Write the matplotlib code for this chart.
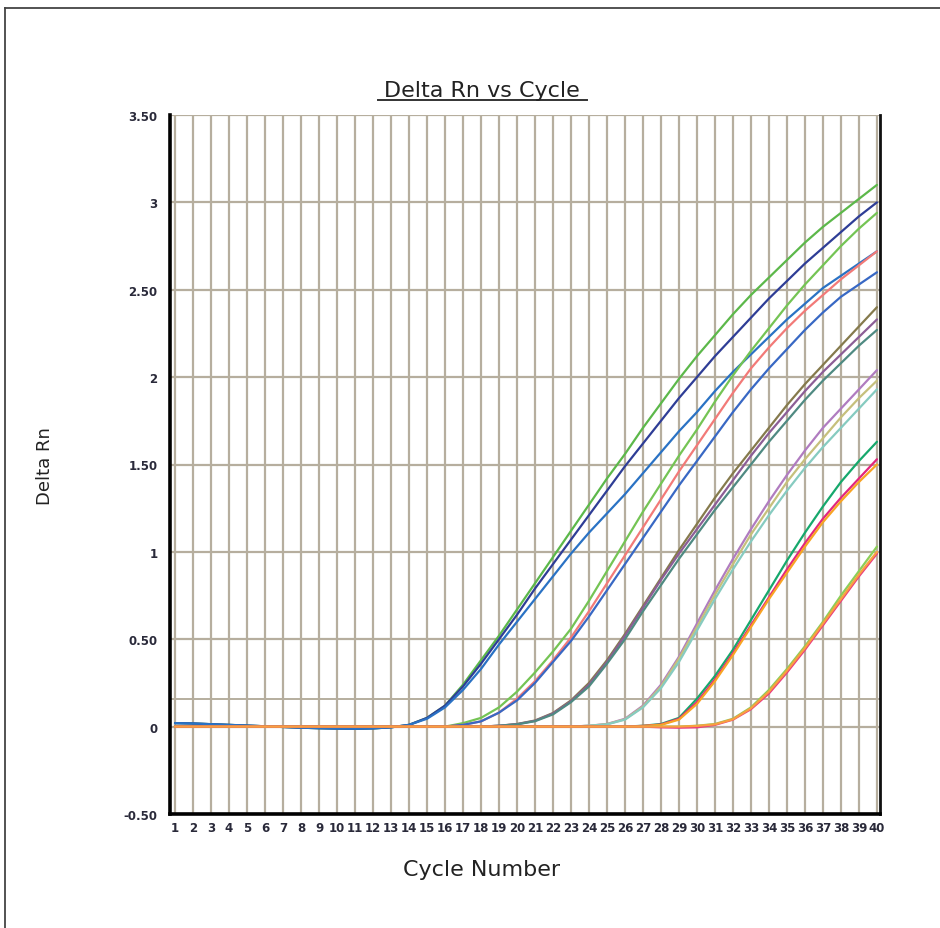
import matplotlib
matplotlib.use("Agg")
import matplotlib.pyplot as plt
from matplotlib.lines import Line2D

plt.rcParams['font.family'] = ['DejaVu Sans']

# ---------------- data ----------------
cycles = [1, 2, 3, 4, 5, 6, 7, 8, 9, 10, 11, 12, 13, 14, 15, 16, 17, 18, 19, 20,
          21, 22, 23, 24, 25, 26, 27, 28, 29, 30, 31, 32, 33, 34, 35, 36, 37, 38, 39, 40]

y_ticks = [-0.5, 0, 0.5, 1, 1.5, 2, 2.5, 3, 3.5]
y_tick_labels = ["-0.50", "0", "0.50", "1", "1.50", "2", "2.50", "3", "3.50"]
threshold = 0.16

# group 1 (earliest rise)
green_a = [0.020, 0.018, 0.014, 0.010, 0.006, 0.002, -0.002, -0.006, -0.009, -0.011,
           -0.012, -0.010, -0.004, 0.01, 0.05, 0.12, 0.24, 0.38, 0.52, 0.67,
           0.82, 0.97, 1.12, 1.27, 1.42, 1.56, 1.71, 1.85, 1.99, 2.12,
           2.24, 2.36, 2.47, 2.57, 2.67, 2.77, 2.86, 2.94, 3.02, 3.10]
navy = [0.020, 0.018, 0.014, 0.010, 0.006, 0.002, -0.002, -0.006, -0.009, -0.011,
        -0.012, -0.010, -0.004, 0.01, 0.05, 0.12, 0.23, 0.36, 0.50, 0.64,
        0.79, 0.93, 1.07, 1.21, 1.35, 1.49, 1.62, 1.75, 1.88, 2.00,
        2.12, 2.23, 2.34, 2.45, 2.55, 2.65, 2.74, 2.83, 2.92, 3.00]
blue_a = [0.020, 0.018, 0.014, 0.010, 0.006, 0.002, -0.002, -0.006, -0.009, -0.011,
          -0.012, -0.010, -0.004, 0.01, 0.045, 0.11, 0.21, 0.33, 0.47, 0.60,
          0.73, 0.86, 0.99, 1.11, 1.22, 1.33, 1.45, 1.57, 1.69, 1.80,
          1.92, 2.03, 2.13, 2.23, 2.33, 2.42, 2.51, 2.58, 2.65, 2.72]

# group 2
green_b = [0, 0, 0, 0, 0, 0, 0, 0, 0, 0, 0, 0, 0, 0, 0, 0, 0.02, 0.05, 0.11, 0.20,
           0.31, 0.43, 0.56, 0.72, 0.89, 1.06, 1.23, 1.39, 1.55, 1.70,
           1.86, 2.01, 2.15, 2.28, 2.41, 2.53, 2.64, 2.75, 2.85, 2.94]
pink = [0, 0, 0, 0, 0, 0, 0, 0, 0, 0, 0, 0, 0, 0, 0, 0, 0.01, 0.03, 0.08, 0.16,
        0.26, 0.38, 0.51, 0.66, 0.82, 0.98, 1.14, 1.30, 1.46, 1.61,
        1.76, 1.91, 2.05, 2.17, 2.28, 2.38, 2.47, 2.56, 2.64, 2.72]
blue_b = [0, 0, 0, 0, 0, 0, 0, 0, 0, 0, 0, 0, 0, 0, 0, 0, 0.01, 0.03, 0.08, 0.15,
          0.25, 0.37, 0.49, 0.63, 0.78, 0.93, 1.08, 1.23, 1.38, 1.52,
          1.66, 1.80, 1.93, 2.05, 2.16, 2.27, 2.37, 2.46, 2.53, 2.60]

# group 3
olive = [0, 0, 0, 0, 0, 0, 0, 0, 0, 0, 0, 0, 0, 0, 0, 0, 0, 0, 0.005, 0.015,
         0.035, 0.078, 0.15, 0.25, 0.38, 0.53, 0.69, 0.85, 1.01, 1.16,
         1.31, 1.45, 1.58, 1.71, 1.84, 1.96, 2.07, 2.18, 2.29, 2.40]
purple = [0, 0, 0, 0, 0, 0, 0, 0, 0, 0, 0, 0, 0, 0, 0, 0, 0, 0, 0.005, 0.014,
          0.033, 0.075, 0.145, 0.24, 0.37, 0.52, 0.68, 0.84, 0.99, 1.13,
          1.27, 1.41, 1.55, 1.68, 1.80, 1.92, 2.03, 2.13, 2.23, 2.33]
teal_gray = [0, 0, 0, 0, 0, 0, 0, 0, 0, 0, 0, 0, 0, 0, 0, 0, 0, 0, 0.005, 0.013,
             0.031, 0.07, 0.14, 0.23, 0.36, 0.50, 0.66, 0.81, 0.96, 1.10,
             1.24, 1.37, 1.50, 1.63, 1.75, 1.87, 1.98, 2.08, 2.18, 2.27]

# group 4
lilac = [0, 0, 0, 0, 0, 0, 0, 0, 0, 0, 0, 0, 0, 0, 0, 0, 0, 0, 0, 0,
         0, 0, 0, 0.005, 0.015, 0.045, 0.12, 0.24, 0.40, 0.59,
         0.78, 0.96, 1.13, 1.29, 1.44, 1.58, 1.71, 1.82, 1.93, 2.04]
khaki = [0, 0, 0, 0, 0, 0, 0, 0, 0, 0, 0, 0, 0, 0, 0, 0, 0, 0, 0, 0,
         0, 0, 0, 0.005, 0.014, 0.042, 0.115, 0.23, 0.39, 0.57,
         0.755, 0.93, 1.10, 1.25, 1.40, 1.53, 1.65, 1.77, 1.88, 1.98]
light_teal = [0, 0, 0, 0, 0, 0, 0, 0, 0, 0, 0, 0, 0, 0, 0, 0, 0, 0, 0, 0,
              0, 0, 0, 0.005, 0.013, 0.04, 0.11, 0.22, 0.37, 0.55,
              0.73, 0.90, 1.06, 1.21, 1.35, 1.48, 1.60, 1.71, 1.82, 1.93]

# group 5
jade = [0, 0, 0, 0, 0, 0, 0, 0, 0, 0, 0, 0, 0, 0, 0, 0, 0, 0, 0, 0,
        0, 0, 0, 0, 0, 0, 0.005, 0.015, 0.05, 0.16,
        0.29, 0.44, 0.61, 0.78, 0.95, 1.11, 1.26, 1.40, 1.52, 1.63]
magenta = [0, 0, 0, 0, 0, 0, 0, 0, 0, 0, 0, 0, 0, 0, 0, 0, 0, 0, 0, 0,
           0, 0, 0, 0, 0, 0, 0.004, 0.012, 0.045, 0.14,
           0.27, 0.42, 0.58, 0.74, 0.90, 1.05, 1.19, 1.31, 1.42, 1.53]
orange = [0, 0, 0, 0, 0, 0, 0, 0, 0, 0, 0, 0, 0, 0, 0, 0, 0, 0, 0, 0,
          0, 0, 0, 0, 0, 0, 0.004, 0.01, 0.04, 0.13,
          0.26, 0.41, 0.57, 0.73, 0.88, 1.03, 1.17, 1.29, 1.40, 1.50]

# group 6 (latest rise)
lime = [0, 0, 0, 0, 0, 0, 0, 0, 0, 0, 0, 0, 0, 0, 0, 0, 0, 0, 0, 0,
        0, 0, 0, 0, 0, 0, 0, 0, 0, 0.005,
        0.015, 0.045, 0.11, 0.21, 0.33, 0.46, 0.60, 0.75, 0.89, 1.03]
magenta_2 = [0, 0, 0, 0, 0, 0, 0, 0, 0, 0, 0, 0, 0, 0, 0, 0, 0, 0, 0, 0,
             0, 0, 0, 0, 0, 0, 0, -0.004, -0.006, -0.004,
             0.01, 0.04, 0.10, 0.19, 0.31, 0.44, 0.58, 0.72, 0.86, 0.99]
orange_2 = [0, 0, 0, 0, 0, 0, 0, 0, 0, 0, 0, 0, 0, 0, 0, 0, 0, 0, 0, 0,
            0, 0, 0, 0, 0, 0, 0, 0, 0, 0.004,
            0.013, 0.042, 0.105, 0.20, 0.32, 0.45, 0.59, 0.73, 0.87, 1.00]

series = [
    (green_a, "#5cb84a"), (navy, "#2e3d96"), (blue_a, "#2a72c4"),
    (green_b, "#74c454"), (pink, "#f27a78"), (blue_b, "#3868c4"),
    (olive, "#857a4c"), (purple, "#8c5e96"), (teal_gray, "#4f8a82"),
    (lilac, "#b07cc0"), (khaki, "#c6c07c"), (light_teal, "#86cbc0"),
    (jade, "#16a86c"), (magenta, "#e2267e"), (orange, "#f8a424"),
    (lime, "#8ccf58"), (magenta_2, "#ea3a80"), (orange_2, "#f8a040"),
]

# ---------------- figure ----------------
W, H = 940, 929
fig = plt.figure(figsize=(W / 100, H / 100), dpi=100)
fig.patch.set_facecolor("white")

# figure frame (top and left edges)
fig.add_artist(Line2D([5 / W, 1.0], [1 - 9 / H, 1 - 9 / H], color="#444444", lw=1.3))
fig.add_artist(Line2D([5 / W, 5 / W], [0.0, 1 - 9 / H], color="#444444", lw=1.3))

ax = fig.add_axes([170 / W, 1 - 815 / H, 710 / W, 699 / H])
grid_c = "#b6ae9e"
ax.set_xlim(0.72, 40.17)
ax.set_ylim(-0.5, 3.5)
ax.set_xticks(cycles)
ax.set_xticklabels([str(c) for c in cycles])
ax.set_yticks(y_ticks)
ax.set_yticklabels(y_tick_labels)
ax.set_axisbelow(True)
ax.grid(True, color=grid_c, lw=1.6)
ax.axhline(threshold, color=grid_c, lw=1.4, zorder=0.5)

for vals, col in series:
    ax.plot(cycles, vals, color=col, lw=1.6, solid_capstyle="round",
            solid_joinstyle="round")

for s in ["left", "bottom"]:
    ax.spines[s].set_color("black")
    ax.spines[s].set_linewidth(2.6)
ax.spines["right"].set_color("#111111")
ax.spines["right"].set_linewidth(2.0)
ax.spines["top"].set_visible(False)

ax.tick_params(axis="both", length=0)
ax.tick_params(axis="y", pad=9)
ax.tick_params(axis="x", pad=5)
for lab in ax.get_xticklabels() + ax.get_yticklabels():
    lab.set_fontsize(8.5)
    lab.set_fontweight("bold")
    lab.set_color("#2a2a3a")

# title with underline
fig.text(482 / W, 1 - 97 / H, "Delta Rn vs Cycle", ha="center", va="baseline",
         fontsize=16, color="#222222")
fig.add_artist(Line2D([378 / W, 587 / W], [1 - 101 / H, 1 - 101 / H],
                      color="#333333", lw=1.4))

fig.text(482 / W, 1 - 870 / H, "Cycle Number", ha="center", va="center",
         fontsize=16, color="#222222")
fig.text(45 / W, 1 - 466 / H, "Delta Rn", ha="center", va="center",
         rotation=90, fontsize=13, color="#222222")

fig.savefig("out.png", dpi=100, facecolor="white")
